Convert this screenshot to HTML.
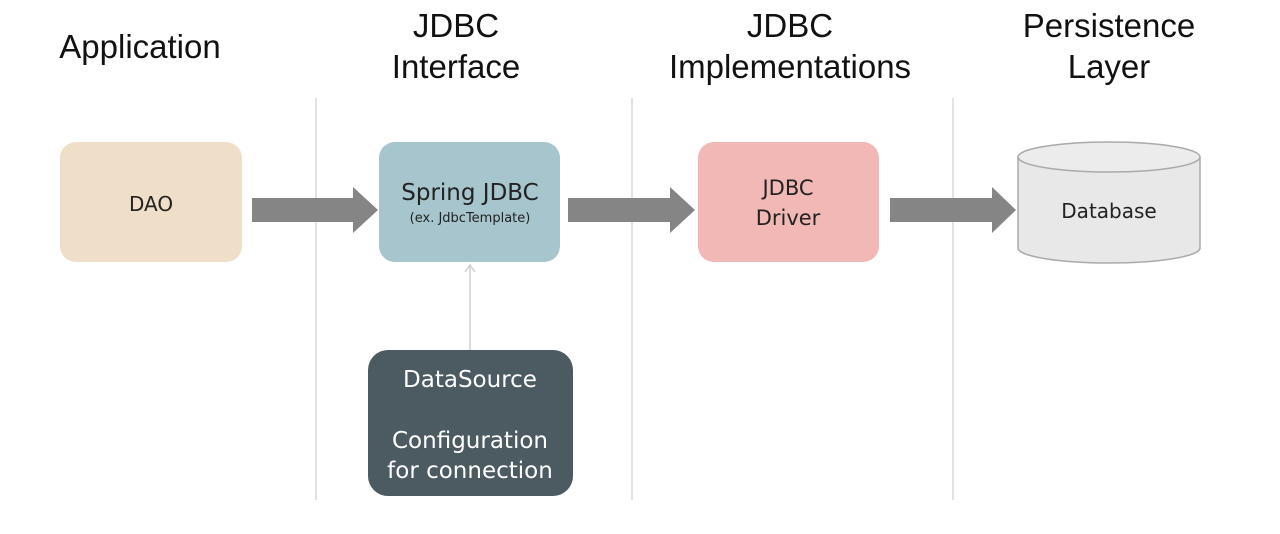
<!DOCTYPE html>
<html><head><style>
body{margin:0;width:1280px;height:529px;background:#fff;overflow:hidden}
</style></head><body>
<svg width="1280" height="529" xmlns="http://www.w3.org/2000/svg" font-family="'DejaVu Sans','Liberation Sans',sans-serif">
<g font-family="'Liberation Sans',sans-serif" font-size="33" fill="#111" text-anchor="middle">
<text x="140" y="58">Application</text>
<text x="456" y="37">JDBC</text><text x="456" y="78">Interface</text>
<text x="790" y="37">JDBC</text><text x="790" y="78">Implementations</text>
<text x="1109" y="37">Persistence</text><text x="1109" y="78">Layer</text>
</g>
<g stroke="#d8d8d8" stroke-width="1.5">
<line x1="316" y1="98" x2="316" y2="500"/><line x1="632" y1="98" x2="632" y2="500"/><line x1="953" y1="98" x2="953" y2="500"/>
</g>
<rect x="60" y="142" width="182" height="120" rx="16" fill="#f0dfc8"/>
<rect x="379" y="142" width="181" height="120" rx="16" fill="#a7c5cc"/>
<rect x="698" y="142" width="181" height="120" rx="16" fill="#f2b8b6"/>
<rect x="368" y="350" width="205" height="146" rx="20" fill="#4c5a61"/>
<g fill="#858585">
<polygon points="252,198 353,198 353,187 378,210 353,233 353,222 252,222"/>
<polygon points="568,198 670,198 670,187 695,210 670,233 670,222 568,222"/>
<polygon points="890,198 992,198 992,187 1016,210 992,233 992,222 890,222"/>
</g>
<line x1="470" y1="350" x2="470" y2="265" stroke="#d0d0d0" stroke-width="1.5"/>
<polyline points="465,272 470,265 475,272" fill="none" stroke="#d0d0d0" stroke-width="1.5"/>
<path d="M1018,157 L1018,248 A91,15 0 0 0 1200,248 L1200,157" fill="#e8e8e8" stroke="#aaa" stroke-width="1.5"/>
<ellipse cx="1109" cy="157" rx="91" ry="15" fill="#ececec" stroke="#aaa" stroke-width="1.5"/>
<g fill="#222" text-anchor="middle">
<text x="151" y="211" font-size="20">DAO</text>
<text x="470" y="200" font-size="23">Spring JDBC</text>
<text x="470" y="222" font-size="13">(ex. JdbcTemplate)</text>
<text x="788" y="195" font-size="21">JDBC</text>
<text x="788" y="225" font-size="21">Driver</text>
<text x="1109" y="218" font-size="20">Database</text>
</g>
<g fill="#fff" text-anchor="middle" font-size="23">
<text x="470" y="387">DataSource</text>
<text x="470" y="448">Configuration</text>
<text x="470" y="478">for connection</text>
</g>
</svg>
</body></html>
